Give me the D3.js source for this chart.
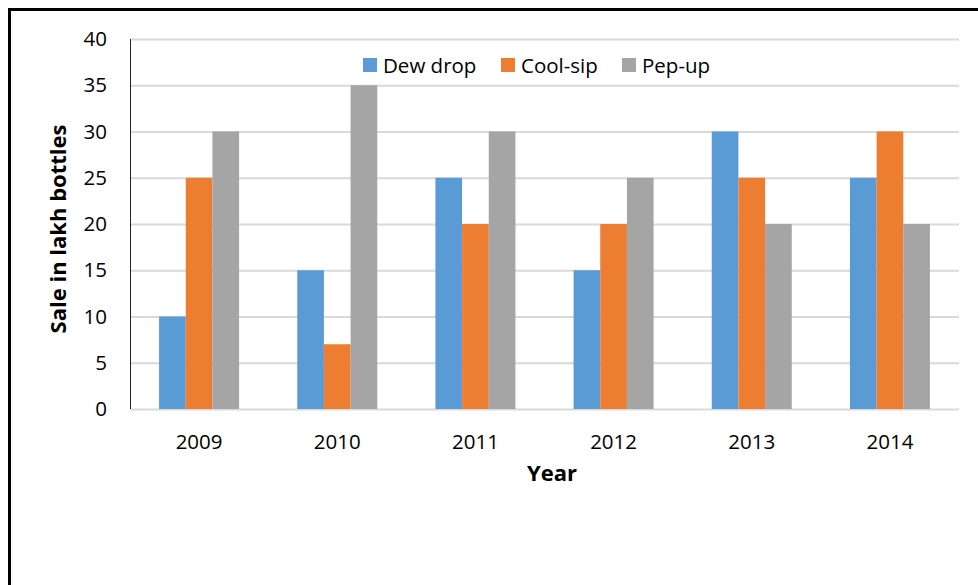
<!DOCTYPE html>
<html>
<head>
<meta charset="utf-8">
<script src="https://cdn.jsdelivr.net/npm/d3@7"></script>
<style>
  body { margin: 0; background: #fff; }
  text { font-family: "Open Sans", sans-serif; fill: #000; }
</style>
</head>
<body>
<div id="chart"></div>
<script>
// chart data
var years = ["2009", "2010", "2011", "2012", "2013", "2014"];
var seriesNames = ["Dew drop", "Cool-sip", "Pep-up"];
var dewDrop = [10, 15, 25, 15, 30, 25];
var coolSip = [25, 7, 20, 20, 25, 30];
var pepUp = [30, 35, 30, 25, 20, 20];
var yTicks = [0, 5, 10, 15, 20, 25, 30, 35, 40];
var colors = ["#5b9bd5", "#ed7d31", "#a5a5a5"];

var values = [dewDrop, coolSip, pepUp];

// dimensions and margins
var W = 978, H = 585;
var margin = { top: 39, right: 19, bottom: 176, left: 130 },
  width = W - margin.left - margin.right,
  height = H - margin.top - margin.bottom;

var root = d3.select("#chart")
  .append("svg")
  .attr("width", W)
  .attr("height", H);

// outer frame (runs off the right and bottom edges)
root.append("rect")
  .attr("x", 9.5)
  .attr("y", 9.5)
  .attr("width", W + 20)
  .attr("height", H + 20)
  .attr("fill", "none")
  .attr("stroke", "#000")
  .attr("stroke-width", 3);

var svg = root.append("g")
  .attr("transform", "translate(" + margin.left + "," + margin.top + ")");

// scales
var x = d3.scaleBand()
  .domain(years)
  .range([0, width]);

var x1 = d3.scaleBand()
  .domain(seriesNames)
  .range([0, x.bandwidth()])
  .paddingOuter(1.09);

var y = d3.scaleLinear()
  .domain([0, 40])
  .range([height, 0]);

// gridlines
svg.append("g")
  .attr("class", "grid")
  .call(d3.axisLeft(y)
    .tickValues(yTicks)
    .tickSize(-width)
    .tickFormat(""))
  .call(g => g.select(".domain").remove())
  .call(g => g.selectAll("line").attr("stroke", "#d9d9d9").attr("stroke-width", 2));

// y axis labels
svg.append("g")
  .call(d3.axisLeft(y).tickValues(yTicks).tickSize(0).tickPadding(23))
  .call(g => g.select(".domain").remove())
  .call(g => g.selectAll("text")
    .style("font-size", "20.5px")
    .attr("font-family", "Open Sans"));

// bars
var groups = svg.append("g")
  .selectAll("g")
  .data(years)
  .enter()
  .append("g")
  .attr("transform", function (d) { return "translate(" + x(d) + ",0)"; });

groups.selectAll("rect")
  .data(function (d, i) {
    return seriesNames.map(function (s, j) { return { name: s, value: values[j][i], idx: j }; });
  })
  .enter()
  .append("rect")
  .attr("x", function (d) { return x1(d.name); })
  .attr("y", function (d) { return y(d.value); })
  .attr("width", x1.bandwidth())
  .attr("height", function (d) { return height - y(d.value); })
  .attr("fill", function (d) { return colors[d.idx]; });

// y axis line
svg.append("line")
  .attr("x1", 0.5).attr("x2", 0.5)
  .attr("y1", 0).attr("y2", height)
  .attr("stroke", "#222")
  .attr("stroke-width", 1);

// x axis labels
svg.append("g")
  .attr("transform", "translate(0," + height + ")")
  .call(d3.axisBottom(x).tickSize(0).tickPadding(25))
  .call(g => g.select(".domain").remove())
  .call(g => g.selectAll("text")
    .style("font-size", "20.5px")
    .attr("font-family", "Open Sans"));

// axis titles
svg.append("text")
  .attr("x", 422)
  .attr("y", 442)
  .style("text-anchor", "middle")
  .style("font-size", "22px")
  .style("font-weight", "bold")
  .text("Year");

svg.append("text")
  .attr("transform", "rotate(-90)")
  .attr("x", -190)
  .attr("y", -64)
  .style("text-anchor", "middle")
  .style("font-size", "22px")
  .style("font-weight", "bold")
  .text("Sale in lakh bottles");

// legend
var legendX = [363, 501, 622];
var legend = root.append("g")
  .selectAll("g")
  .data(seriesNames)
  .enter()
  .append("g")
  .attr("transform", function (d, i) { return "translate(" + legendX[i] + ",58)"; });

legend.append("rect")
  .attr("width", 14)
  .attr("height", 14)
  .attr("fill", function (d, i) { return colors[i]; });

legend.append("text")
  .attr("x", 20)
  .attr("y", 15)
  .style("font-size", "20.5px")
  .text(function (d) { return d; });
</script>
</body>
</html>
